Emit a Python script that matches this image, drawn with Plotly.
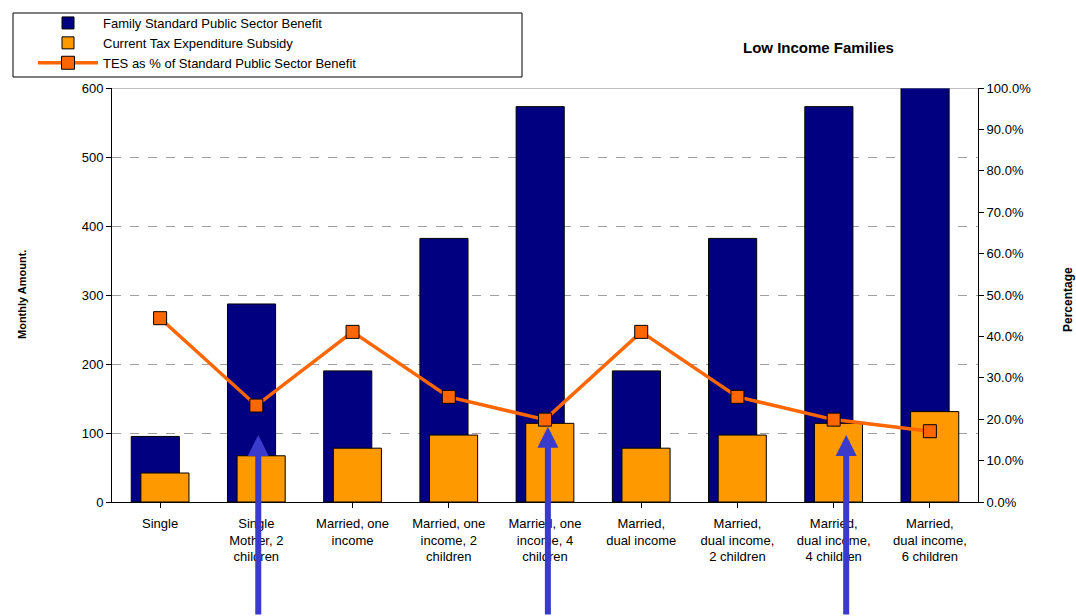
import plotly.graph_objects as go

categories = ["Single", "Single<br>Mother, 2<br>children", "Married, one<br>income",
              "Married, one<br>income, 2<br>children", "Married, one<br>income, 4<br>children",
              "Married,<br>dual income", "Married,<br>dual income,<br>2 children",
              "Married,<br>dual income,<br>4 children", "Married,<br>dual income,<br>6 children"]
benefit = [95, 287, 190, 382, 573, 190, 382, 573, 766]
subsidy = [42, 67, 78, 97, 114, 78, 97, 114, 131]
tes_pct = [0.444, 0.233, 0.411, 0.254, 0.199, 0.411, 0.254, 0.199, 0.171]

arrow_x = [1.02, 4.03, 7.13]
arrow_y = [97, 109, 97]

FONT = "Arial, Liberation Sans, sans-serif"
idx = list(range(len(categories)))

# pixel -> paper helpers for plot area (x 112..978, y 88..502)
def px(x):
    return (x - 112) / 866

def py(y):
    return (502 - y) / 414

fig = go.Figure()
fig.add_trace(go.Bar(x=idx, y=benefit, name="Family Standard Public Sector Benefit",
                     marker=dict(color="#000080", line=dict(color="black", width=1)),
                     offset=-0.30, width=0.50))
fig.add_trace(go.Bar(x=idx, y=subsidy, name="Current Tax Expenditure Subsidy",
                     marker=dict(color="#FF9900", line=dict(color="black", width=1)),
                     offset=-0.20, width=0.50))
fig.add_trace(go.Scatter(x=idx, y=tes_pct, name="TES as % of Standard Public Sector Benefit",
                         mode="lines+markers", yaxis="y2",
                         line=dict(color="#FF6600", width=3.5),
                         marker=dict(symbol="square", size=13, color="#FF6600",
                                     line=dict(color="black", width=1))))

for ax_, ay_ in zip(arrow_x, arrow_y):
    fig.add_annotation(x=ax_, y=ay_, xref="x", yref="y", ax=0, ay=190,
                       axref="pixel", ayref="pixel", text="", showarrow=True,
                       arrowhead=2, arrowsize=0.7, arrowwidth=6, arrowcolor="#3A3ACD")

fig.add_annotation(text="<b>Low Income Families</b>", x=px(818), y=py(47),
                   xref="paper", yref="paper", showarrow=False, xanchor="center", yanchor="middle",
                   font=dict(size=15, color="black", family=FONT))
fig.add_annotation(text="<b>Monthly Amount.</b>", x=px(22), y=py(295),
                   xref="paper", yref="paper", textangle=-90, showarrow=False,
                   xanchor="center", yanchor="middle",
                   font=dict(size=11, color="black", family=FONT))
fig.add_annotation(text="<b>Percentage</b>", x=px(1068), y=py(300),
                   xref="paper", yref="paper", textangle=-90, showarrow=False,
                   xanchor="center", yanchor="middle",
                   font=dict(size=12, color="black", family=FONT))

# top border of plot area
fig.add_shape(type="line", xref="paper", yref="y", x0=0, x1=1, y0=600, y1=600,
              line=dict(color="#808080", width=1))
# legend frame
fig.add_shape(type="rect", xref="paper", yref="paper", x0=px(13), x1=px(522),
              y0=py(13), y1=py(77), line=dict(color="black", width=1),
              fillcolor="white", layer="above")

fig.update_layout(
    width=1076, height=616,
    margin=dict(l=112, r=98, t=88, b=114, autoexpand=False),
    paper_bgcolor="white", plot_bgcolor="white",
    barmode="overlay",
    font=dict(family=FONT, size=13, color="black"),
    showlegend=True,
    legend=dict(xref="container", yref="container", x=33 / 1076, y=1 - 8 / 616,
                xanchor="left", yanchor="top", borderwidth=0,
                bgcolor="rgba(0,0,0,0)", font=dict(size=13, family=FONT), tracegroupgap=0,
                itemwidth=60),
    xaxis=dict(tickmode="array", tickvals=idx, ticktext=categories, range=[-0.5, 8.5],
               showline=True, linecolor="black", ticks="outside", ticklen=5,
               tickcolor="black", showgrid=False, zeroline=False, tickangle=0,
               tickson="boundaries", ticklabelstandoff=4),
    yaxis=dict(range=[0, 600], dtick=100, showline=True, linecolor="black",
               ticks="outside", ticklen=5, tickcolor="black",
               showgrid=True, gridcolor="#A0A0A0", griddash="dash", gridwidth=1,
               zeroline=False),
    yaxis2=dict(range=[0, 1], dtick=0.1, tickformat=".1%", overlaying="y", side="right",
                showline=True, linecolor="black", ticks="outside", ticklen=5,
                tickcolor="black", showgrid=False, zeroline=False),
)

fig.write_html("out.html")
